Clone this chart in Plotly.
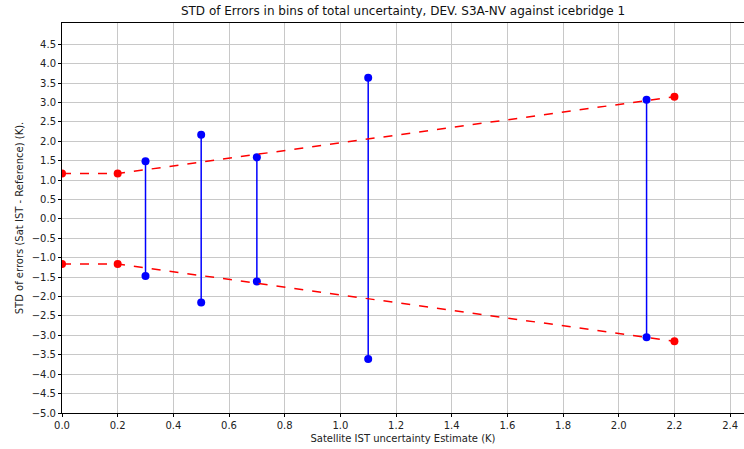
import plotly.graph_objects as go
import numpy as np

# Red envelope (upper and lower), dashed
red_x = [0.0, 0.2, 2.2]
red_upper = [1.17, 1.17, 3.15]
red_lower = [-1.16, -1.16, -3.15]

# Blue STD bars per bin
bin_x = [0.3, 0.5, 0.7, 1.1, 2.1]
std_upper = [1.49, 2.17, 1.59, 3.64, 3.07]
std_lower = [-1.47, -2.15, -1.61, -3.61, -3.05]

y_ticks = [round(v, 1) for v in np.arange(-5.0, 4.51, 0.5)]
x_ticks = [round(v, 1) for v in np.arange(0.0, 2.41, 0.2)]

fig = go.Figure()

for xb, yu, yl in zip(bin_x, std_upper, std_lower):
    fig.add_trace(go.Scatter(x=[xb, xb], y=[yl, yu], mode="lines+markers",
                             line=dict(color="#0000ff", width=1.5),
                             marker=dict(color="#0000ff", size=8),
                             showlegend=False, cliponaxis=False))

for ys in (red_upper, red_lower):
    fig.add_trace(go.Scatter(x=red_x, y=ys, mode="lines+markers",
                             line=dict(color="#ff0000", width=1.5, dash="dash"),
                             marker=dict(color="#ff0000", size=8),
                             showlegend=False, cliponaxis=True))

fig.update_layout(
    width=744, height=449,
    margin=dict(l=62, r=0, t=23, b=36),
    paper_bgcolor="white", plot_bgcolor="white",
    font=dict(family="DejaVu Sans", size=10, color="#222"),
    title=dict(text="STD of Errors in bins of total uncertainty, DEV. S3A-NV against icebridge 1",
               x=0.5, xanchor="center", xref="paper", y=0.985, yanchor="top",
               font=dict(size=12, color="#111")),
)
fig.update_xaxes(range=[0, 2.45], tickvals=x_ticks, ticktext=[f"{v:.1f}" for v in x_ticks],
                 showgrid=True, gridcolor="#c8c8c8", gridwidth=1,
                 showline=True, linecolor="black", linewidth=1, mirror=True,
                 ticks="outside", ticklen=3, tickcolor="black", zeroline=False,
                 title=dict(text="Satellite IST uncertainty Estimate (K)", standoff=4,
                            font=dict(size=10)))
fig.update_yaxes(range=[-5, 5.05], tickvals=y_ticks, ticktext=[f"{v:.1f}".replace("-", "\u2212") for v in y_ticks],
                 showgrid=True, gridcolor="#c8c8c8", gridwidth=1,
                 showline=True, linecolor="black", linewidth=1, mirror=True,
                 ticks="outside", ticklen=3, tickcolor="black", zeroline=False,
                 title=dict(text="STD of errors (Sat IST - Reference) (K).", standoff=6,
                            font=dict(size=10)))

fig.write_html("out.html")
